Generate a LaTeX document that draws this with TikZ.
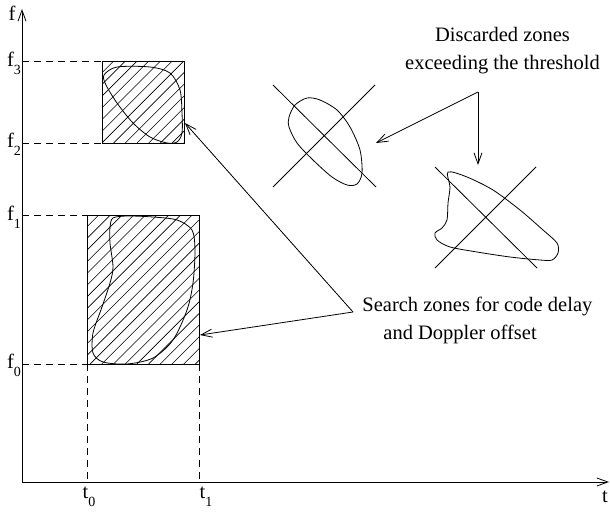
\documentclass[tikz,border=0pt]{standalone}
\usepackage{fontspec}
\setmainfont{Liberation Serif}
\usetikzlibrary{arrows.meta}
\newcommand{\lowidx}[2]{#1\raisebox{-0.38em}{\fontsize{14}{14}\selectfont #2}}

\begin{document}
\begin{tikzpicture}[x=1pt,y=-1pt,line width=0.8pt,
    every node/.style={inner sep=0pt,font=\fontsize{20.5}{28}\selectfont},
    guide/.style={dash pattern=on 7pt off 5pt,line width=0.7pt},
    zone/.style={minimum width=#1},
    hatch/.style={line width=0.6pt},
    pointer/.style={-{Straight Barb[length=11pt,width=8pt]}}]
    \useasboundingbox (0,0) rectangle (610,514);
    % axes
    \coordinate (origin) at (22,482);
    \coordinate (ftop) at (22,9);
    \coordinate (tright) at (609,482);
    \draw[pointer] (origin) -- (ftop);
    \draw[pointer] (origin) -- (tright);
    \node (flab) at (12,13) {f};
    \node (tlab) at (605,497) {t};
    % search zones
    \node[zone=81pt,minimum height=81pt] (upper) at (143.5,102.5) {};
    \node[zone=111pt,minimum height=148pt] (lower) at (143.5,290) {};
    \begin{scope}
        \clip (upper.south west) rectangle (upper.north east);
        \foreach \k in {0,...,15} \draw[hatch] (\k*11.7+20,143) -- ++(95,-95);
    \end{scope}
    \begin{scope}
        \clip (lower.south west) rectangle (lower.north east);
        \foreach \k in {0,...,23} \draw[hatch] (\k*11.7-62,364) -- ++(160,-160);
    \end{scope}
    \draw (upper.north west) rectangle (upper.south east);
    \draw (lower.north west) rectangle (lower.south east);
    \draw plot[smooth cycle] coordinates {(104,75) (117,67) (150,67) (170,73) (180,90) (182,113)
        (182,133) (177,142) (167,143) (150,137) (133,123) (117,103) (106,85)};
    \draw plot[smooth cycle] coordinates {(113,218) (127,216) (153,217) (177,220) (192,230) (195,250)
        (193,283) (187,310) (173,340) (153,358) (127,364) (103,362) (93,353) (93,333) (102,307)
        (110,283) (113,267) (110,243) (110,227)};
    % guide lines
    \draw[guide] (origin |- upper.north) -- (upper.north west);
    \draw[guide] (origin |- upper.south) -- (upper.south west);
    \draw[guide] (origin |- lower.north) -- (lower.north west);
    \draw[guide] (origin |- lower.south) -- (lower.south west);
    \draw[guide] (lower.south west) -- (lower.south west |- origin);
    \draw[guide] (lower.south east) -- (lower.south east |- origin);
    \node (f3) at (14,63) {\lowidx{f}{3}};
    \node (f2) at (14,144) {\lowidx{f}{2}};
    \node (f1) at (14,217) {\lowidx{f}{1}};
    \node (f0) at (14,365) {\lowidx{f}{0}};
    \node (t0) at (89,497) {\lowidx{t}{0}};
    \node (t1) at (206,497) {\lowidx{t}{1}};
    % discarded zones
    \draw plot[smooth cycle] coordinates {(289,117) (295,105) (307,98) (320,100) (337,110) (350,127)
        (360,150) (362,173) (357,184) (347,185) (332,177) (313,160) (297,143) (289,127)};
    \draw (273,85) -- (376,187) (273,187) -- (375,85);
    \draw plot[smooth cycle] coordinates {(448,172) (467,177) (493,190) (520,210) (543,230) (557,243)
        (558,253) (552,260) (540,260) (510,257) (477,252) (450,247) (437,240) (435,233) (442,228)
        (447,220) (448,203) (450,187)};
    \draw (435,167) -- (537,268) (435,268) -- (536,167);
    % labels and pointers
    \node[align=center] (disctxt) at (502.5,51) {Discarded zones\\exceeding the threshold};
    \node[align=left,anchor=west] (srchtxt) at (362,320) {Search zones for code delay\\\hspace*{21pt}and Doppler offset};
    \coordinate (disc) at (478,92);
    \coordinate (srch) at (353,312);
    \coordinate (discL) at (376,143);
    \coordinate (discR) at (478,165);
    \coordinate (srchU) at (185,123);
    \coordinate (srchL) at (200,335);
    \draw[pointer] (disc) -- (discL);
    \draw[pointer] (disc) -- (discR);
    \draw[pointer] (srch) -- (srchU);
    \draw[pointer] (srch) -- (srchL);
\end{tikzpicture}
\end{document}
